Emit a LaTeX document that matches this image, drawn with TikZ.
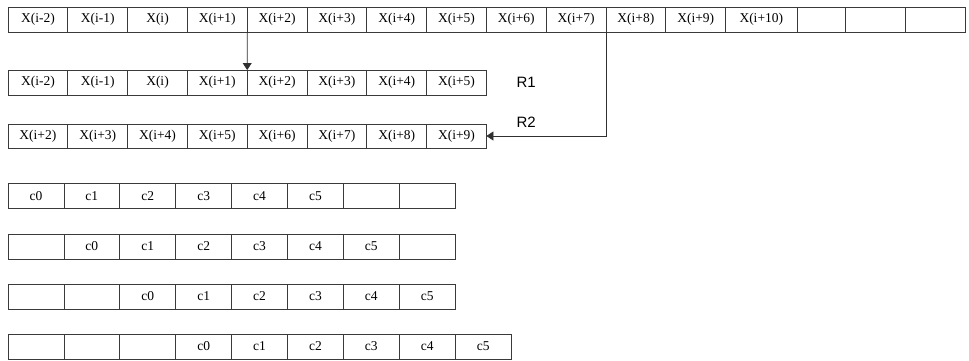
\documentclass[tikz,border=0pt]{standalone}
\usepackage{fontspec}
\setmainfont{Liberation Serif}
\newfontfamily\labfont{Liberation Sans}
\usepackage{tikz}
\usetikzlibrary{positioning, arrows.meta}
\definecolor{cellLine}{HTML}{3A3A3A}
\definecolor{arrInk}{HTML}{303030}

\begin{document}
\begin{tikzpicture}[x=1pt, y=-1pt, >=Triangle,
    xcell/.style={draw=cellLine, line width=0.8pt, inner sep=0pt, outer sep=0pt,
      minimum height=25pt, font=\fontsize{13.5}{15}\selectfont},
    ccell/.style={xcell, minimum width=55.9pt},
    feed/.style={draw=arrInk, line width=0.8pt, -{Triangle[length=7pt, width=9pt]}}]
  \useasboundingbox (0,0) rectangle (969,360);
  % input stream
  \foreach \n/\x/\w/\t in {0/8/59.8/X(i-2), 1/67.8/59.8/X(i-1), 2/127.6/59.8/X(i),
      3/187.4/59.8/X(i+1), 4/247.2/59.8/X(i+2), 5/307/59.8/X(i+3), 6/366.8/59.8/X(i+4),
      7/426.6/59.8/X(i+5), 8/486.4/59.8/X(i+6), 9/546.2/59.8/X(i+7), 10/606/59.8/X(i+8),
      11/665.8/59.8/X(i+9), 12/725.6/71.4/X(i+10), 13/797/48/{}, 14/845/60/{}, 15/905/60/{}}
    \node[xcell, minimum width=\w pt] (t\n) at ({\x+\w/2},19.5) {\t};
  % registers R1 and R2
  \foreach \n/\t in {0/X(i-2), 1/X(i-1), 2/X(i), 3/X(i+1), 4/X(i+2), 5/X(i+3), 6/X(i+4), 7/X(i+5)}
    \node[xcell, minimum width=59.8pt] (a\n) at ({37.9+59.8*\n},82.5) {\t};
  \foreach \n/\t in {0/X(i+2), 1/X(i+3), 2/X(i+4), 3/X(i+5), 4/X(i+6), 5/X(i+7), 6/X(i+8), 7/X(i+9)}
    \node[xcell, minimum width=59.8pt, minimum height=24pt] (b\n) at ({37.9+59.8*\n},136) {\t};
  \node[font=\labfont\fontsize{15}{17}\selectfont, anchor=west] (r1lab) at (513,82) {R1};
  \node[font=\labfont\fontsize{15}{17}\selectfont, anchor=west] (r2lab) at (513,122) {R2};
  \draw[feed] (t4.south west) -- (a4.north west);
  \draw[feed] (t10.south west) |- (b7.east);
  % shifted coefficients
  \foreach \r/\y/\m in {0/196/7, 1/246.5/7, 2/296.5/7, 3/346.5/8}
    \foreach \i in {0,...,\m} {
      \pgfmathtruncatemacro\k{\i-\r}
      \node[ccell] (c\r-\i) at ({35.95+55.9*\i},\y) {\ifnum\k<0 \else\ifnum\k>5 \else c\k\fi\fi};
    }
\end{tikzpicture}
\end{document}
